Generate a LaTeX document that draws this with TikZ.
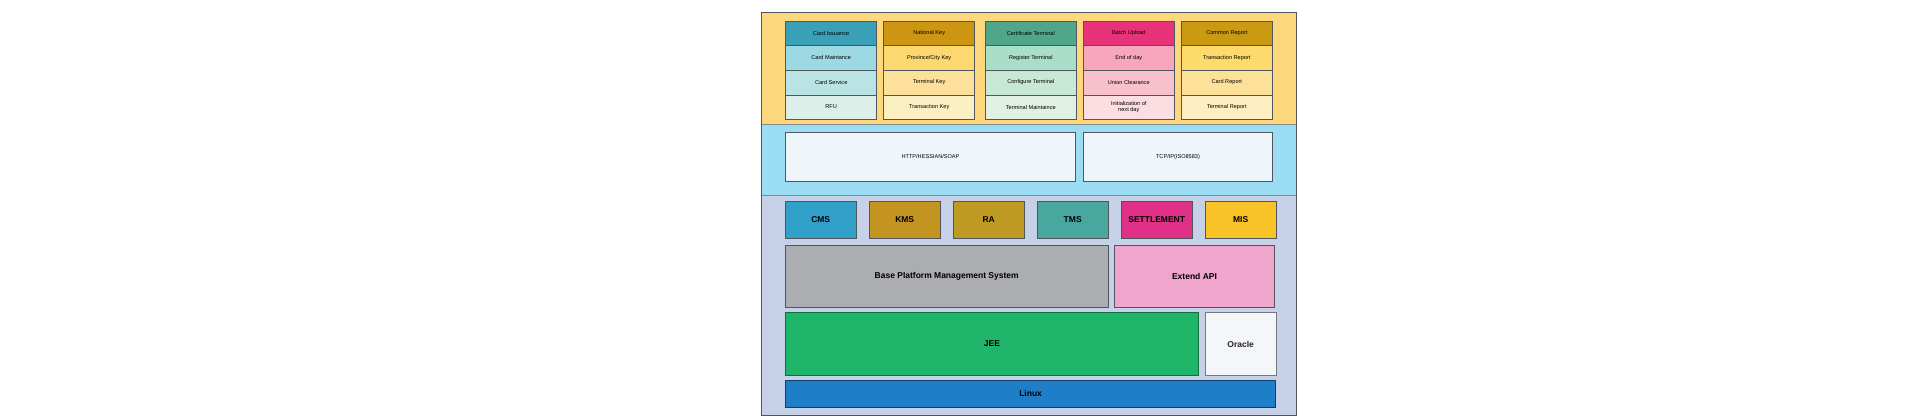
\documentclass[tikz,border=0pt]{standalone}
\usepackage{fontspec}
\setmainfont{Liberation Sans}

\definecolor{edge}{HTML}{4F565E}
\definecolor{bandtop}{HTML}{FDD87C}
\definecolor{bandmid}{HTML}{9BDEF3}
\definecolor{bandlow}{HTML}{C6D0E7}
% column colours
\definecolor{cardA}{HTML}{39A0B8}\definecolor{cardB}{HTML}{9CD9E2}\definecolor{cardC}{HTML}{BAE4E3}\definecolor{cardD}{HTML}{DCEFE8}
\definecolor{keyA}{HTML}{CC9613}\definecolor{keyB}{HTML}{FDD770}\definecolor{keyC}{HTML}{FDE19B}\definecolor{keyD}{HTML}{FDEFC4}
\definecolor{certA}{HTML}{4FA68B}\definecolor{certB}{HTML}{A9DEC8}\definecolor{certC}{HTML}{C8E8D6}\definecolor{certD}{HTML}{E0F0E3}
\definecolor{batchA}{HTML}{E8337A}\definecolor{batchB}{HTML}{F8A6BD}\definecolor{batchC}{HTML}{F9C1CE}\definecolor{batchD}{HTML}{FCDDE2}
\definecolor{repA}{HTML}{CA9A13}\definecolor{repB}{HTML}{FED96C}\definecolor{repC}{HTML}{FEE198}\definecolor{repD}{HTML}{FEEEC1}
% module colours
\definecolor{cmsC}{HTML}{31A0C8}\definecolor{kmsC}{HTML}{C49421}\definecolor{raC}{HTML}{BF9A23}
\definecolor{tmsC}{HTML}{48A8A0}\definecolor{setC}{HTML}{E03088}\definecolor{misC}{HTML}{F7C326}
\definecolor{baseC}{HTML}{ACADB0}\definecolor{extC}{HTML}{F0A5CC}\definecolor{jeeC}{HTML}{20B66A}
\definecolor{oraC}{HTML}{F5F6FA}\definecolor{linuxC}{HTML}{1F7EC8}\definecolor{protoC}{HTML}{EEF6FC}

\tikzset{
  cell/.style={draw=edge, line width=0.6pt, minimum width=91pt, minimum height=24.6pt,
    inner sep=1pt, align=center, font=\fontsize{5.6}{6.4}\selectfont},
  proto/.style={draw=edge, line width=0.7pt, fill=protoC, minimum height=49pt,
    font=\fontsize{5.6}{6.4}\selectfont},
  module/.style={draw=edge, line width=0.6pt, minimum width=70.2pt, minimum height=37.4pt,
    inner sep=0pt, font=\bfseries\fontsize{8.5}{10}\selectfont},
  layer/.style={draw=edge, line width=0.6pt, inner sep=0pt, font=\bfseries\fontsize{8.5}{10}\selectfont},
}

\begin{document}
\begin{tikzpicture}[x=1pt,y=-1pt]
\useasboundingbox (0,0) rectangle (1920,420);

% bands
\filldraw[fill=bandtop, draw=edge, line width=0.6pt](761,12.3) rectangle (1296.7,124.3);
\filldraw[fill=bandmid, draw=edge!70, line width=0.6pt](761,124.3) rectangle (1296.7,195.3);
\filldraw[fill=bandlow, draw=edge!70, line width=0.6pt](761,195.3) rectangle (1296.7,415.3);
\draw[edge, line width=0.8pt](761,12.3) rectangle (1296.7,415.3);

% business columns
\node[cell, fill=cardA] at (831.2,33.3) (card1) {Card Issuance};
\node[cell, fill=cardB] at (831.2,57.9) (card2) {Card Maintance};
\node[cell, fill=cardC] at (831.2,82.5) (card3) {Card Service};
\node[cell, fill=cardD] at (831.2,107.1) (card4) {RFU};

\node[cell, fill=keyA] at (929.2,33.3) (key1) {National Key};
\node[cell, fill=keyB] at (929.2,57.9) (key2) {Province/City Key};
\node[cell, fill=keyC] at (929.2,82.5) (key3) {Terminal Key};
\node[cell, fill=keyD] at (929.2,107.1) (key4) {Transaction Key};

\node[cell, fill=certA] at (1030.8,33.3) (cert1) {Certificate Terminal};
\node[cell, fill=certB] at (1030.8,57.9) (cert2) {Register Terminal};
\node[cell, fill=certC] at (1030.8,82.5) (cert3) {Configure Terminal};
\node[cell, fill=certD] at (1030.8,107.1) (cert4) {Terminal Maintaince};

\node[cell, fill=batchA] at (1128.8,33.3) (batch1) {Batch Upload};
\node[cell, fill=batchB] at (1128.8,57.9) (batch2) {End of day};
\node[cell, fill=batchC] at (1128.8,82.5) (batch3) {Union Clearance};
\node[cell, fill=batchD] at (1128.8,107.1) (batch4) {Initialization of\\next day};

\node[cell, fill=repA] at (1226.8,33.3) (rep1) {Common Report};
\node[cell, fill=repB] at (1226.8,57.9) (rep2) {Transaction Report};
\node[cell, fill=repC] at (1226.8,82.5) (rep3) {Card Report};
\node[cell, fill=repD] at (1226.8,107.1) (rep4) {Terminal Report};

% protocols
\node[proto, minimum width=289.9pt] at (930.5,156.8) (http) {HTTP/HESSIAN/SOAP};
\node[proto, minimum width=189pt] at (1178,156.8) (tcp) {TCP/IP(ISO8583)};

% modules
\node[module, fill=cmsC] at (820.7,220) (cms) {CMS};
\node[module, fill=kmsC] at (904.7,220) (kms) {KMS};
\node[module, fill=raC] at (988.7,220) (ra) {RA};
\node[module, fill=tmsC] at (1072.7,220) (tms) {TMS};
\node[module, fill=setC] at (1156.7,220) (settle) {SETTLEMENT};
\node[module, fill=misC] at (1240.7,220) (mis) {MIS};

% platform
\node[layer, fill=baseC, minimum width=322.2pt, minimum height=62.3pt] at (946.7,276.2) (base) {Base Platform Management System};
\node[layer, fill=extC, minimum width=160.3pt, minimum height=62.3pt] at (1194.5,276.2) (ext) {Extend API};
\node[layer, fill=jeeC, draw=jeeC!60!black, minimum width=412.9pt, minimum height=63.4pt] at (992,344) (jee) {JEE};
\node[layer, fill=oraC, draw=edge!80, minimum width=70.2pt, minimum height=63.4pt, text=black!85] at (1240.7,344) (oracle) {Oracle};
\node[layer, fill=linuxC, draw=linuxC!50!black, minimum width=490.1pt, minimum height=27.3pt] at (1030.6,393.7) (linux) {Linux};
\end{tikzpicture}
\end{document}
